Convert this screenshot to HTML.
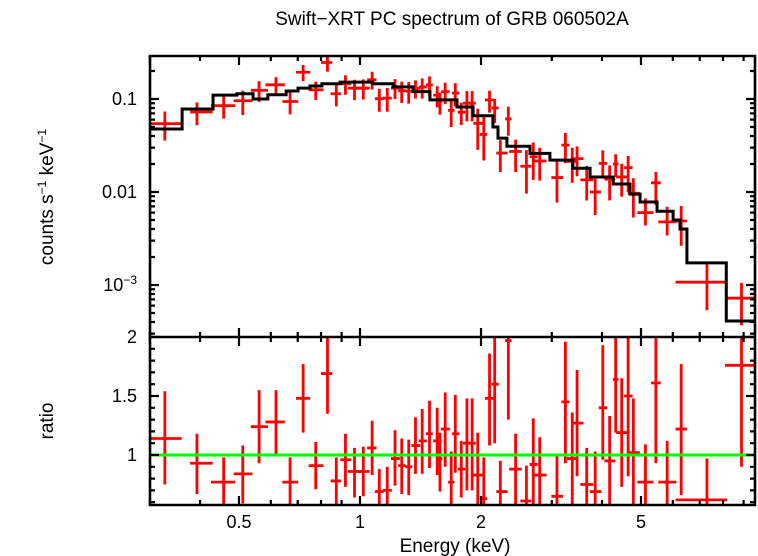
<!DOCTYPE html>
<html><head><meta charset="utf-8"><style>
body{margin:0;background:#fff;}
svg{display:block;font-family:"Liberation Sans",sans-serif;}
</style></head><body>
<svg id="chart" width="758" height="556" viewBox="0 0 758 556" xmlns="http://www.w3.org/2000/svg">
<text x="452" y="25" font-size="19" text-anchor="middle">Swift−XRT PC spectrum of GRB 060502A</text>
<text transform="translate(53,197) rotate(-90)" font-size="19" text-anchor="middle">counts s<tspan font-size="12" dy="-7">−1</tspan><tspan dy="7"> keV</tspan><tspan font-size="12" dy="-7">−1</tspan></text>
<text transform="translate(53,421) rotate(-90)" font-size="19" text-anchor="middle">ratio</text>
<text x="455" y="552" font-size="19" text-anchor="middle">Energy (keV)</text>
<g id="marks"></g>
</svg>
<script>
// Model step function (bin edges in keV, model counts/s/keV)
const modelEdges=[0.30,0.361,0.431,0.494,0.542,0.590,0.655,0.701,0.751,0.804,0.892,1.077,1.208,1.355,1.493,1.743,1.911,2.141,2.204,2.320,2.647,2.968,3.385,3.735,4.263,4.695,4.974,5.482,6.010,6.252,6.505,8.15,9.60];
const modelValues=[0.0476,0.078,0.110,0.114,0.100,0.111,0.122,0.131,0.138,0.146,0.152,0.146,0.135,0.120,0.098,0.082,0.066,0.050,0.038,0.031,0.026,0.022,0.018,0.0145,0.0122,0.0095,0.0078,0.0062,0.0050,0.0040,0.00173,0.00041];
// Data bins
const eCenter=[0.327,0.393,0.458,0.511,0.561,0.618,0.670,0.722,0.776,0.830,0.873,0.920,0.969,1.019,1.072,1.117,1.169,1.222,1.270,1.322,1.374,1.428,1.489,1.556,1.581,1.629,1.686,1.726,1.786,1.845,1.901,1.963,2.032,2.100,2.163,2.234,2.339,2.438,2.594,2.698,2.799,3.090,3.243,3.373,3.467,3.664,3.846,4.018,4.178,4.325,4.477,4.645,4.786,5.129,5.445,5.808,6.295,7.295,8.892];
const eLow=[0.294,0.378,0.426,0.485,0.535,0.582,0.641,0.693,0.745,0.800,0.845,0.893,0.933,0.982,1.042,1.089,1.140,1.194,1.245,1.297,1.343,1.400,1.459,1.521,1.560,1.589,1.656,1.694,1.750,1.804,1.862,1.914,1.986,2.046,2.123,2.183,2.296,2.350,2.506,2.642,2.716,2.992,3.170,3.273,3.373,3.532,3.733,3.926,4.055,4.256,4.335,4.539,4.634,4.898,5.297,5.521,6.095,6.095,8.091];
const eHigh=[0.360,0.430,0.489,0.540,0.590,0.650,0.702,0.752,0.811,0.853,0.897,0.951,1.009,1.057,1.099,1.145,1.200,1.256,1.300,1.349,1.412,1.466,1.517,1.596,1.603,1.671,1.718,1.766,1.828,1.888,1.941,2.032,2.070,2.153,2.213,2.328,2.382,2.525,2.667,2.767,2.911,3.199,3.319,3.459,3.597,3.802,3.981,4.121,4.315,4.395,4.624,4.764,4.966,5.370,5.598,6.124,6.501,8.185,9.727];
const ratio=[1.14,0.93,0.77,0.84,1.24,1.28,0.77,1.48,0.91,1.69,0.78,0.96,0.86,0.86,1.06,0.69,0.70,0.97,0.91,0.90,1.08,1.12,1.18,1.12,0.97,1.22,0.77,1.18,0.88,1.10,1.10,0.83,0.63,1.48,1.60,0.69,1.97,0.88,0.61,0.92,0.83,0.65,1.45,0.97,1.27,0.75,0.69,1.40,0.95,1.64,1.19,1.50,1.02,0.77,1.61,0.77,1.22,0.62,1.76];
const ratioErrUp=[0.40,0.25,0.21,0.24,0.31,0.27,0.21,0.29,0.20,0.32,0.20,0.22,0.20,0.21,0.23,0.19,0.20,0.24,0.23,0.23,0.24,0.27,0.28,0.28,0.22,0.31,0.26,0.33,0.24,0.38,0.38,0.36,0.35,0.38,0.40,0.26,0.70,0.30,0.30,0.39,0.32,0.36,0.51,0.39,0.45,0.31,0.34,0.53,0.38,0.45,0.46,0.50,0.46,0.32,0.50,0.35,0.55,0.35,0.80];
const ratioErrDown=[0.39,0.26,0.21,0.25,0.31,0.27,0.21,0.29,0.20,0.34,0.21,0.23,0.22,0.21,0.23,0.19,0.20,0.23,0.24,0.24,0.24,0.28,0.29,0.29,0.28,0.32,0.26,0.33,0.24,0.40,0.40,0.40,0.30,0.40,0.50,0.26,0.67,0.35,0.30,0.40,0.32,0.30,0.52,0.40,0.45,0.30,0.30,0.44,0.39,0.45,0.46,0.68,0.46,0.21,0.68,0.22,0.56,0.31,0.86];
const xTicksMajor=[0.5,1,2,5];
const xTicksMinor=[0.3,0.4,0.6,0.7,0.8,0.9,3,4,6,7,8,9];
const xTickLabels=["0.5","1","2","5"];
const topYMajor=[0.1,0.01,0.001];
const ratioYMajor=[1,1.5,2];
const ratioYLabels=["1","1.5","2"];

const NS="http://www.w3.org/2000/svg";
const L=150,R=755,T=56,M=337,B=505;
function xS(e){return 360+402*Math.log10(e);}
function yTop(v){return 99-93*Math.log10(v/0.1);}
function yRat(r){return 455-118*(r-1);}
const g=document.getElementById('marks');
function el(tag,attrs,parent){const e=document.createElementNS(NS,tag);for(const k in attrs)e.setAttribute(k,attrs[k]);(parent||g).appendChild(e);return e;}
function modelAt(e){for(let i=0;i<modelValues.length;i++){if(e>=modelEdges[i]&&e<modelEdges[i+1])return modelValues[i];}return modelValues[modelValues.length-1];}

const defs=el('defs',{});
const c1=el('clipPath',{id:'clipTop'},defs);el('rect',{x:L,y:T,width:R-L,height:M-T},c1);
const c2=el('clipPath',{id:'clipBot'},defs);el('rect',{x:L,y:M,width:R-L,height:B-M},c2);

const topData=el('g',{'clip-path':'url(#clipTop)'});


for(let i=0;i<eCenter.length;i++){
  const m=modelAt(eCenter[i]);
  const v=m*ratio[i],vu=m*(ratio[i]+ratioErrUp[i]),vd=Math.max(m*(ratio[i]-ratioErrDown[i]),1e-6);
  const p=el('path',{d:`M${xS(eLow[i])},${yTop(v)}H${xS(eHigh[i])}M${xS(eCenter[i])},${yTop(vu)}V${yTop(vd)}`,stroke:'#f00','stroke-width':2.8,fill:'none'},topData);
  
  
}
let d=`M${xS(modelEdges[0])},${yTop(modelValues[0])}`;
for(let i=0;i<modelValues.length;i++){d+=`V${yTop(modelValues[i])}H${xS(modelEdges[i+1])}`;}
const mp=el('path',{d:d,stroke:'#000','stroke-width':3,fill:'none','clip-path':'url(#clipTop)'});



const rg=el('g',{'clip-path':'url(#clipBot)'});


for(let i=0;i<eCenter.length;i++){
  const p=el('path',{d:`M${xS(eLow[i])},${yRat(ratio[i])}H${xS(eHigh[i])}M${xS(eCenter[i])},${yRat(ratio[i]+ratioErrUp[i])}V${yRat(ratio[i]-ratioErrDown[i])}`,stroke:'#f00','stroke-width':2.8,fill:'none'},rg);
  
  
}
const gl=el('line',{x1:L,x2:R,y1:yRat(1),y2:yRat(1),stroke:'#0f0','stroke-width':3});



const fr=el('path',{d:`M${L},${T}H${R}V${B}H${L}ZM${L},${M}H${R}`,stroke:'#000','stroke-width':2.6,fill:'none'});



const tk=el('g',{stroke:'#000','stroke-width':2.2});


function xt(e,len){const x=xS(e);let s=`M${x},${T}v${len}M${x},${M}v${-len}M${x},${M}v${len}M${x},${B}v${-len}`;el('path',{d:s},tk);}
xTicksMajor.forEach(e=>xt(e,9));xTicksMinor.forEach(e=>xt(e,5));
xTicksMajor.forEach((e,i)=>{const t=el('text',{x:xS(e),y:528,'font-size':18,'text-anchor':'middle'});t.textContent=xTickLabels[i];});
for(let dec=-4;dec<=-1;dec++){for(let k=1;k<10;k++){const v=k*Math.pow(10,dec);const y=yTop(v);if(y<T||y>M)continue;const len=k===1?9:5;el('path',{d:`M${L},${y}h${len}M${R},${y}h${-len}`},tk);}}
const topLabels=[["0.1",0.1],["0.01",0.01]];
topLabels.forEach(a=>{const t=el('text',{x:137,y:yTop(a[1])+6,'font-size':18,'text-anchor':'end'});t.textContent=a[0];});
const t3=el('text',{x:137,y:yTop(0.001)+6,'font-size':18,'text-anchor':'end'});


t3.innerHTML='10<tspan font-size="12" dy="-7">−3</tspan>';
for(let r=0.6;r<=2.001;r+=0.1){const y=yRat(r);const maj=Math.abs(r*2-Math.round(r*2))<0.01;const len=maj?9:5;el('path',{d:`M${L},${y}h${len}M${R},${y}h${-len}`},tk);}
ratioYMajor.forEach((r,i)=>{const t=el('text',{x:137,y:yRat(r)+6,'font-size':18,'text-anchor':'end'});t.textContent=ratioYLabels[i];});
</script>
</body></html>
